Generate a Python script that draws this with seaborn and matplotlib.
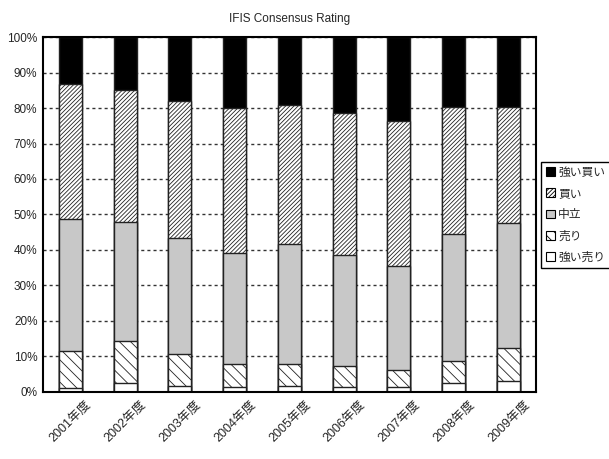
import numpy as np
import matplotlib
matplotlib.use("Agg")
import matplotlib.pyplot as plt
from matplotlib.patches import Patch
from matplotlib.ticker import FixedLocator
import seaborn as sns

# data (percent of ratings per fiscal year)
years = ["2001年度", "2002年度", "2003年度", "2004年度", "2005年度",
         "2006年度", "2007年度", "2008年度", "2009年度"]
strong_sell = [1.0, 2.5, 1.7, 1.3, 1.7, 1.2, 1.3, 2.5, 3.0]
sell = [10.5, 11.9, 9.0, 6.6, 6.2, 6.1, 4.7, 6.1, 9.2]
neutral = [37.2, 33.6, 32.6, 31.2, 33.7, 31.2, 29.4, 35.9, 35.3]
buy = [38.1, 37.2, 38.8, 40.8, 39.4, 40.2, 41.0, 35.9, 32.9]
strong_buy = [13.2, 14.8, 17.9, 20.1, 19.0, 21.3, 23.6, 19.6, 19.6]

labels = ["強い売り", "売り", "中立", "買い", "強い買い"]
faces = ["white", "white", "#c8c8c8", "white", "black"]
hatches = [None, "\\\\\\", None, "////////", None]

sns.set_style("white")
plt.rcParams["font.family"] = ["Liberation Sans", "Noto Sans CJK JP", "DejaVu Sans"]
plt.rcParams["hatch.linewidth"] = 0.6

fig = plt.figure(figsize=(6.09, 4.59), dpi=100)
ax = fig.add_axes([0.0706, 0.1466, 0.8094, 0.7724])

layers = [strong_sell, sell, neutral, buy, strong_buy]
cum = np.cumsum(np.array(layers), axis=0)

# draw from the top layer down so each lower stack covers the one above
for i in range(len(layers) - 1, -1, -1):
    sns.barplot(x=years, y=cum[i], ax=ax, color=faces[i], saturation=1,
                hatch=hatches[i], edgecolor="#222222", linewidth=1.0,
                width=0.42, errorbar=None)

ax.set_ylim(0, 100)
ax.set_xlim(-0.5, len(years) - 0.5)
ax.set_yticks(np.arange(0, 101, 10))
ax.set_yticklabels([f"{v}%" for v in range(0, 101, 10)], fontsize=8.5)
ax.yaxis.grid(True, color="#333333", linestyle=(0, (2.2, 2.2)), linewidth=1.0)
ax.xaxis.grid(False)
ax.set_axisbelow(True)
ax.tick_params(axis="y", length=0, pad=4)
ax.tick_params(axis="x", which="major", length=0, pad=5)
ax.xaxis.set_minor_locator(FixedLocator(np.arange(0.5, len(years) - 1, 1)))
ax.tick_params(axis="x", which="minor", direction="in", length=4, width=1, color="black")
ax.set_xticks(range(len(years)))
ax.set_xticklabels(years, rotation=45, ha="center", va="top", fontsize=9)
ax.set_xlabel("")
ax.set_ylabel("")
for s in ax.spines.values():
    s.set_visible(True)
    s.set_color("black")
    s.set_linewidth(1.5)

ax.set_title("IFIS Consensus Rating", fontsize=8.5, pad=11)

handles = [Patch(facecolor=faces[i], hatch=hatches[i], edgecolor="black",
                 linewidth=0.8, label=labels[i]) for i in range(len(labels) - 1, -1, -1)]
leg = fig.legend(handles=handles, loc="upper left",
                 bbox_to_anchor=(541 / 609, 1 - 162 / 459), bbox_transform=fig.transFigure,
                 fontsize=8.5, frameon=True, fancybox=False, edgecolor="black",
                 framealpha=1, handlelength=0.75, handleheight=0.75, handletextpad=0.3,
                 labelspacing=0.78, borderpad=0.4, borderaxespad=0)
leg.get_frame().set_linewidth(1.0)

fig.savefig("out.png", dpi=100)
